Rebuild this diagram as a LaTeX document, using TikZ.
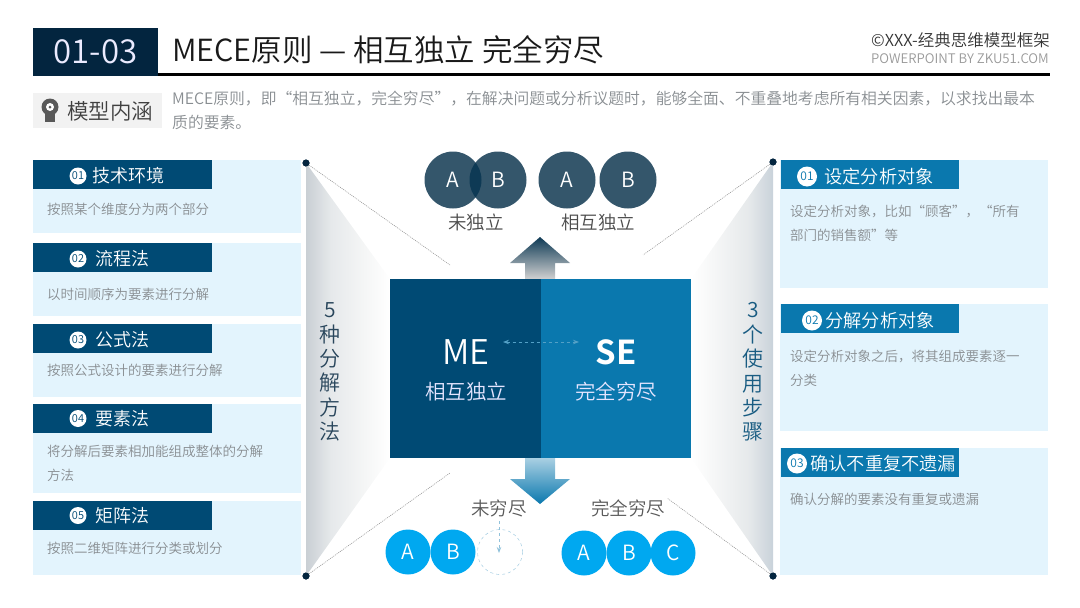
\documentclass[tikz,border=0pt]{standalone}
\usepackage{fontspec}
\setmainfont{Noto Sans CJK SC DemiLight}
\usetikzlibrary{arrows.meta,positioning,calc}
\definecolor{navy}{HTML}{03253F}
\definecolor{deepblu}{HTML}{004A74}
\definecolor{midblu}{HTML}{0A78AE}
\definecolor{palebg}{HTML}{E3F4FD}
\definecolor{slate}{HTML}{34566B}
\definecolor{slatedk}{HTML}{0E3A55}
\definecolor{skyblu}{HTML}{00A8F0}
\definecolor{bodygray}{HTML}{888D91}
\definecolor{fadea}{HTML}{C9CFD4}
\definecolor{fadeb}{HTML}{E6E9EB}
\definecolor{fadec}{HTML}{F5F6F6}
\definecolor{fadeq}{HTML}{C9D2DA}
\pgfdeclarehorizontalshading{fadeleft}{100bp}{color(0bp)=(fadea); color(25bp)=(fadea); color(40bp)=(fadeb); color(60bp)=(fadec); color(75bp)=(white); color(100bp)=(white)}
\pgfdeclarehorizontalshading{faderight}{100bp}{color(0bp)=(white); color(25bp)=(white); color(40bp)=(fadec); color(60bp)=(fadeb); color(75bp)=(fadeq); color(100bp)=(fadeq)}
\tikzset{
  pnl/.style={rectangle,fill=palebg,minimum width=268pt,inner sep=0pt,outer sep=0pt,anchor=north west},
  lhdr/.style={rectangle,fill=deepblu,minimum width=179pt,minimum height=29pt,inner sep=0pt,outer sep=0pt,anchor=north west},
  rhdr/.style={lhdr,fill=midblu,minimum width=178pt},
  lnum/.style={circle,fill=white,text=deepblu,minimum size=17pt,inner sep=0pt,font=\fontsize{11}{11}\selectfont},
  rnum/.style={circle,fill=white,text=midblu,minimum size=20pt,inner sep=0pt,font=\fontsize{12}{12}\selectfont},
  htxt/.style={text=white,inner sep=0pt,font=\fontsize{18}{20}\selectfont},
  btxt/.style={text=bodygray,inner sep=0pt,anchor=west,align=left,font=\fontsize{13.5}{24}\selectfont},
  vtxt/.style={inner sep=0pt,align=center,font=\fontsize{21}{24.4}\selectfont},
  dotn/.style={circle,fill=navy,minimum size=7pt,inner sep=0pt},
  dotl/.style={dash pattern=on 1pt off 1pt,black!40,line width=0.6pt},
  setc/.style={circle,fill=slate,text=white,minimum size=57pt,inner sep=0pt,font=\fontsize{21}{21}\selectfont},
  cntc/.style={circle,fill=skyblu,text=white,minimum size=45pt,inner sep=0pt,font=\fontsize{21}{21}\selectfont},
  seclbl/.style={text=black!70,inner sep=0pt,font=\fontsize{18.5}{20}\selectfont}
}
\begin{document}
\begin{tikzpicture}[x=1pt,y=-1pt]
  \useasboundingbox (0,0) rectangle (1080,608);

  \node[rectangle,fill=black,minimum width=892pt,minimum height=3pt,inner sep=0pt,outer sep=0pt,anchor=north west] (rule) at (158,73) {};
  \node[rectangle,fill=navy,text=white!92!blue,minimum width=125pt,minimum height=48pt,inner sep=0pt,outer sep=0pt,anchor=north west,font=\fontsize{33}{35}\selectfont] (code) at (33,28) {01-03};
  \node[anchor=west,inner sep=0pt,text=black!90,font=\fontsize{30.5}{34}\selectfont] (title) at (172,50) {MECE原则 — 相互独立 完全穷尽};
  \node[anchor=east,inner sep=0pt,text=black!80,font=\fontsize{16.5}{18}\selectfont] (brand) at (1050,40) {©XXX-经典思维模型框架};
  \node[anchor=east,inner sep=0pt,text=black!40,font=\fontsize{13.2}{14}\selectfont] (site) at (1049,59) {POWERPOINT BY ZKU51.COM};

  \node[rectangle,fill=black!5,minimum width=129pt,minimum height=35pt,inner sep=0pt,outer sep=0pt,anchor=north west] (tag) at (33,93) {};
  \node[inner sep=0pt,text=black!75,font=\fontsize{21.5}{25}\selectfont] (tagtxt) at (110,111) {模型内涵};
  \node[circle,fill=black!65,minimum size=17pt,inner sep=0pt] (head) at (50,107) {};
  \node[rectangle,fill=black!65,minimum width=10pt,minimum height=9pt,inner sep=0pt,below=-3pt of head] (neck) {};
  \node[circle,fill=white,minimum size=8pt,inner sep=0pt] (gear) at (head) {};
  \node[circle,fill=black!65,minimum size=3pt,inner sep=0pt] (hub) at (head) {};
  \node[anchor=north west,inner sep=0pt,text=bodygray,align=left,font=\fontsize{15.8}{24}\selectfont] (intro) at (172,91) {MECE原则，即“相互独立，完全穷尽”，在解决问题或分析议题时，能够全面、不重叠地考虑所有相关因素，以求找出最本\\质的要素。};

  \node[dotn] (tl) at (306,163) {};
  \node[dotn] (bl) at (306,576) {};
  \node[dotn] (tr) at (773,162) {};
  \node[dotn] (br) at (773,576) {};
  \coordinate (tlend) at (450,265);
  \coordinate (blend) at (450,473);
  \coordinate (trend) at (643,255);
  \coordinate (brend) at (667,498);

  \shade[shading=fadeleft] (tl.center) -- (390,279) -- (390,458) -- (bl.center) -- cycle;
  \shade[shading=faderight] (tr.center) -- (691,279) -- (691,458) -- (br.center) -- cycle;
  \draw[dotl] (tl) -- (tlend);
  \draw[dotl] (bl) -- (blend);
  \draw[dotl] (tr) -- (trend);
  \draw[dotl] (br) -- (brend);
  \node[dotn] at (tl) {};
  \node[dotn] at (bl) {};
  \node[dotn] at (tr) {};
  \node[dotn] at (br) {};

  \node[vtxt,text=navy!85] (lside) at (330,372) {5\\种\\分\\解\\方\\法};
  \node[vtxt,text=deepblu!90] (rside) at (753,372) {3\\个\\使\\用\\步\\骤};

  \node[pnl,minimum height=73pt] (p1) at (33,160) {};
  \node[pnl,minimum height=73pt,below=10pt of p1] (p2) {};
  \node[pnl,minimum height=73pt,below=8pt of p2] (p3) {};
  \node[pnl,minimum height=89pt,below=7pt of p3] (p4) {};
  \node[pnl,minimum height=74pt,below=8pt of p4] (p5) {};

  \node[lhdr] (h1) at (p1.north west) {};
  \node[lhdr] (h2) at (p2.north west) {};
  \node[lhdr] (h3) at (p3.north west) {};
  \node[lhdr] (h4) at (p4.north west) {};
  \node[lhdr] (h5) at (p5.north west) {};
  \node[lnum] (n1) at ($(h1.west)+(45,1.5)$) {01};
  \node[lnum] (n2) at ($(h2.west)+(45,1.5)$) {02};
  \node[lnum] (n3) at ($(h3.west)+(45,1.5)$) {03};
  \node[lnum] (n4) at ($(h4.west)+(45,0)$) {04};
  \node[lnum] (n5) at ($(h5.west)+(45,0)$) {05};
  \node[htxt,right=6pt of n1] {技术环境};
  \node[htxt,right=9pt of n2] {流程法};
  \node[htxt,right=9pt of n3] {公式法};
  \node[htxt,right=9pt of n4] {要素法};
  \node[htxt,right=9pt of n5] {矩阵法};
  \node[btxt] (b1) at ($(h1.south west)+(14,20)$) {按照某个维度分为两个部分};
  \node[btxt] (b2) at ($(h2.south west)+(14,22)$) {以时间顺序为要素进行分解};
  \node[btxt] (b3) at ($(h3.south west)+(14,17)$) {按照公式设计的要素进行分解};
  \node[btxt] (b4) at ($(h4.south west)+(14,30)$) {将分解后要素相加能组成整体的分解\\方法};
  \node[btxt] (b5) at ($(h5.south west)+(14,18)$) {按照二维矩阵进行分类或划分};

  \node[pnl,minimum height=128pt] (q1) at (780,160) {};
  \node[pnl,minimum height=127pt,below=16pt of q1] (q2) {};
  \node[pnl,minimum height=127pt,below=17pt of q2] (q3) {};
  \node[rhdr] (r1) at ($(q1.north west)+(1,0)$) {};
  \node[rhdr] (r2) at ($(q2.north west)+(1,0)$) {};
  \node[rhdr] (r3) at ($(q3.north west)+(1,0)$) {};
  \node[rnum] (m1) at ($(r1.west)+(26,2)$) {01};
  \node[rnum] (m2) at ($(r2.west)+(31,2)$) {02};
  \node[rnum] (m3) at ($(r3.west)+(16,1)$) {03};
  \node[htxt,font=\fontsize{18.2}{20}\selectfont,right=7pt of m1] {设定分析对象};
  \node[htxt,font=\fontsize{18.2}{20}\selectfont,right=3pt of m2] {分解分析对象};
  \node[htxt,font=\fontsize{18.2}{20}\selectfont,right=3pt of m3] {确认不重复不遗漏};
  \node[btxt] (c1) at ($(r1.south west)+(9,34.5)$) {设定分析对象，比如“顾客”，“所有\\部门的销售额”等};
  \node[btxt] (c2) at ($(r2.south west)+(9,35)$) {设定分析对象之后，将其组成要素逐一\\分类};
  \node[btxt] (c3) at ($(r3.south west)+(9,22)$) {确认分解的要素没有重复或遗漏};

  \shade[top color=slatedk,bottom color=black!18] (540,237) -- (570,263) -- (555,263) -- (555,279) -- (525,279) -- (525,263) -- (510,263) -- cycle;
  \shade[top color=midblu!35,bottom color=midblu] (525,458) -- (555,458) -- (555,479) -- (570,479) -- (540,504) -- (510,479) -- (525,479) -- cycle;

  \node[rectangle,fill=deepblu,minimum width=151pt,minimum height=179pt,inner sep=0pt,outer sep=0pt,anchor=north west] (me) at (390,279) {};
  \node[rectangle,fill=midblu,minimum width=150pt,minimum height=179pt,inner sep=0pt,outer sep=0pt,right=0pt of me] (se) {};
  \node[text=white,inner sep=0pt,font=\fontsize{34}{36}\selectfont] (metxt) at (466,352) {ME};
  \node[text=white,inner sep=0pt,font=\fontsize{33}{35}\bfseries\selectfont] (setxt) at (616,352) {SE};
  \node[text=white!90!blue,inner sep=0pt,font=\fontsize{20.5}{23}\selectfont] (mesub) at (466,392) {相互独立};
  \node[text=white!90!blue,inner sep=0pt,font=\fontsize{20.5}{23}\selectfont] (sesub) at (616,392) {完全穷尽};
  \coordinate (mearr) at (503,342);
  \coordinate (searr) at (579,342);
  \draw[{Stealth[length=6pt]}-{Stealth[length=6pt]},dashed,midblu!70!white,line width=0.8pt] (mearr) -- (searr);

  \node[setc] (a1) at (453,180) {A};
  \node[setc] (b1c) at (498,180) {B};
  \begin{scope}
    \clip (a1.center) circle (28.5pt);
    \fill[slatedk] (b1c.center) circle (28.5pt);
  \end{scope}
  \node[setc] (a2) at (567,180) {A};
  \node[setc] (b2c) at (628,180) {B};
  \node[seclbl] (nome) at (476,222) {未独立};
  \node[seclbl] (isme) at (598,222) {相互独立};

  \node[seclbl,text=black!65] (nose) at (499,508) {未穷尽};
  \node[seclbl,text=black!65] (isse) at (628,508) {完全穷尽};
  \node[cntc] (a3) at (408,552) {A};
  \node[cntc] (b3c) at (453,552) {B};
  \node[circle,draw=midblu!45,dashed,minimum size=45pt,inner sep=0pt] (gap) at (500,552) {};
  \coordinate (gapin) at (499,553);
  \coordinate (gaptop) at (499,521);
  \draw[-{Stealth[length=6pt]},dashed,midblu!45,line width=0.9pt] (gaptop) -- (gapin);
  \node[cntc] (a4) at (584,553) {A};
  \node[cntc] (b4c) at (629,553) {B};
  \node[cntc] (c4) at (673,553) {C};
\end{tikzpicture}
\end{document}
